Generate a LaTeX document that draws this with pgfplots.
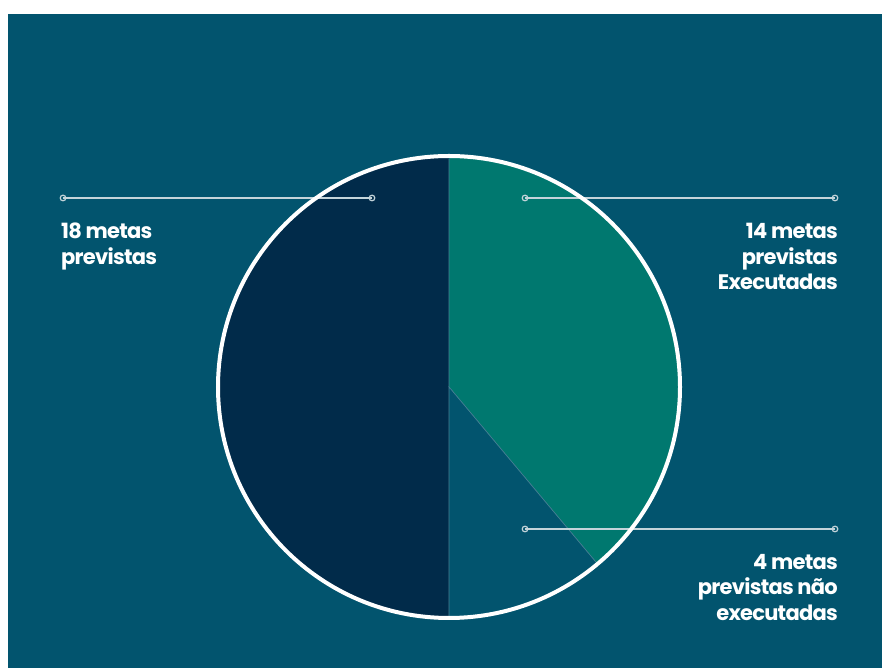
\documentclass[border=0pt]{standalone}
\usepackage{fontspec}
\setmainfont{Poppins}
\usepackage{pgfplots}
\pgfplotsset{compat=1.18}
\definecolor{bgc}{HTML}{02546E}
\definecolor{navyc}{HTML}{012B4A}
\definecolor{tealc}{HTML}{00786F}
\definecolor{lnc}{HTML}{C4D4DA}
\def\total{18}
\def\exec{14}
\def\nexec{4}
\begin{document}
\begin{tikzpicture}
\begin{axis}[x=1bp,y=1bp,xmin=0,xmax=882,ymin=0,ymax=668,hide axis,scale only axis,clip=false]
\fill[white] (axis cs:0,0) rectangle (axis cs:882,668);
\fill[bgc] (axis cs:8,0) rectangle (axis cs:882,654);
\pgfmathsetmacro\aE{90-180*\exec/\total}
\pgfmathsetmacro\aN{\aE-180*\nexec/\total}
\fill[navyc] (axis cs:449,281) -- ++(90:231bp) arc[start angle=90,end angle=270,radius=231bp] -- cycle;
\filldraw[fill=tealc,draw=lnc!35!bgc,line width=0.6bp] (axis cs:449,281) -- ++(90:231bp) arc[start angle=90,end angle=\aE,radius=231bp] -- cycle;
\filldraw[fill=bgc,draw=lnc!35!bgc,line width=0.6bp] (axis cs:449,281) -- ++(\aE:231bp) arc[start angle=\aE,end angle=\aN,radius=231bp] -- cycle;
\addplot[lnc,line width=1.5bp,mark=o,mark size=2.8bp,mark options={fill=bgc,line width=1.2bp}] coordinates {(63,470) (372,470)};
\addplot[lnc,line width=1.5bp,mark=o,mark size=2.8bp,mark options={fill=bgc,line width=1.2bp}] coordinates {(525,470) (835,470)};
\addplot[lnc,line width=1.5bp,mark=o,mark size=2.8bp,mark options={fill=bgc,line width=1.2bp}] coordinates {(525,139) (835,139)};
\draw[white,line width=4bp] (axis cs:449,281) circle[radius=231bp];
\tikzset{lbl/.style={text=white,font=\fontsize{21bp}{25.5bp}\selectfont\bfseries\addfontfeatures{LetterSpace=-3.5},inner sep=0pt}}
\node[lbl,anchor=north west,align=left] at (axis cs:61,445) {18 metas\\previstas};
\node[lbl,anchor=north east,align=right] at (axis cs:838,445) {14 metas\\previstas\\Executadas};
\node[lbl,anchor=north east,align=right] at (axis cs:838,114) {4 metas\\previstas não\\executadas};
\end{axis}
\end{tikzpicture}
\end{document}
